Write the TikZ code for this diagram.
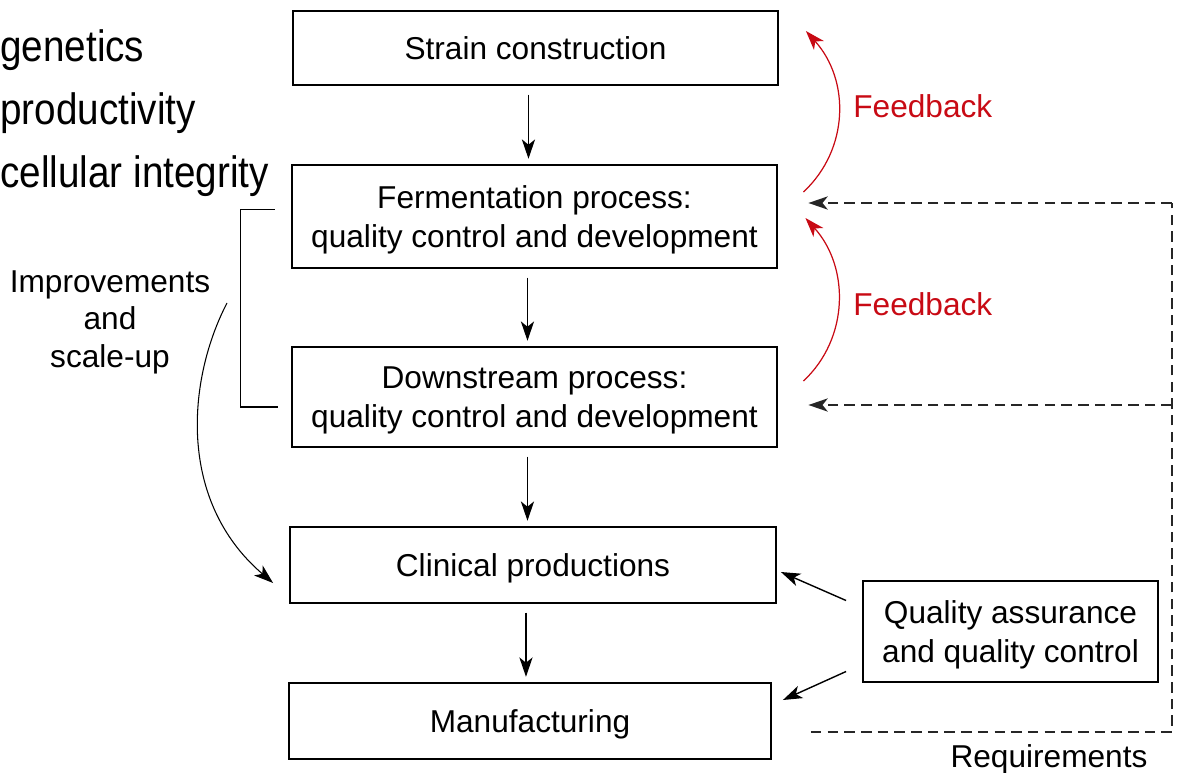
\documentclass[tikz,border=0pt]{standalone}
\usepackage{fontspec}
\setmainfont{Liberation Sans}
\newfontfamily\narrowfont[FakeStretch=0.88]{Liberation Sans}
\usepackage{xcolor}
\usetikzlibrary{arrows.meta,calc}
\definecolor{fbred}{RGB}{200,10,20}

\begin{document}
\begin{tikzpicture}[x=0.02cm,y=-0.02cm]
		
		\useasboundingbox (0,0) rectangle (1179,773);
		
		\tikzset{box/.style = {shape=rectangle,draw,line width=1.1pt,minimum width=9.72cm,align=center,text depth=0pt,font=\fontsize{18}{22.5}\selectfont}}
		\tikzset{edge/.style = {-{Stealth[length=11pt,width=7.5pt,inset=3pt]},line width=0.8pt}}
		\tikzset{fb/.style = {edge,draw=fbred,line width=0.7pt}}
		\tikzset{req/.style = {line width=1pt,dash pattern=on 6pt off 3.5pt,draw=black!85}}
		\tikzset{lbl/.style = {inner sep=0pt,font=\fontsize{18}{21.3}\selectfont}}
		\tikzset{big/.style = {inner sep=0pt,anchor=base west,font=\narrowfont\fontsize{25}{30}\selectfont}}
		
		
		\node[box] (S) at (535.5,48) [minimum width=9.7cm,minimum height=1.48cm] {Strain construction};
		\node[box] (F) at (534.5,216.5) [minimum height=2.06cm] {Fermentation process:\\quality control and development};
		\node[box] (D) at (534.5,397) [minimum height=2cm] {Downstream process:\\quality control and development};
		\node[box] (C) at (533,565) [minimum height=1.52cm] {Clinical productions};
		\node[box] (M) at (530,721) [minimum width=9.64cm,minimum height=1.52cm] {Manufacturing};
		\node[box] (QA) at (1010.5,631.5) [minimum width=5.9cm,minimum height=2.02cm] {Quality assurance\\and quality control};
		
		\node[big] (gen) at (0,62) {genetics};
		\node[big] (prod) at (0,125) {productivity};
		\node[big] (cell) at (0,188) {cellular integrity};
		
		\node[lbl,align=center] (imp) at (110,322) {Improvements\\and\\scale-up};
		\node[lbl,anchor=base west,text=fbred] (fb1) at (853,118) {Feedback};
		\node[lbl,anchor=base west,text=fbred] (fb2) at (853,316) {Feedback};
		\node[lbl,anchor=base] (req) at (1049,767) {Requirements};
		
		
		\draw[edge,shorten <=5pt,shorten >=3pt] ([xshift=-4pt]S.south) -- ([xshift=-4pt]S.south |- F.north);
		\draw[edge,shorten <=5pt,shorten >=3pt] ([xshift=-4pt]F.south) -- ([xshift=-4pt]F.south |- D.north);
		\draw[edge,shorten <=5pt,shorten >=3pt] ([xshift=-4pt]D.south) -- ([xshift=-4pt]D.south |- C.north);
		\draw[edge,shorten <=5pt,shorten >=3pt] ([xshift=-4pt]C.south) -- ([xshift=-4pt]C.south |- M.north);
		
		\draw[edge] ($(QA.west)+(-16,-31)$) -- ($(C.east)+(4,7)$);
		\draw[edge] ($(QA.west)+(-16,40)$) -- ($(M.east)+(11,-21)$);
		
		
		\draw[line width=0.8pt] ($(F.west)+(-16,-7)$) -| ($(D.west)+(-50,10)$) -- ($(D.west)+(-13,10)$);
		
		\coordinate (imp1) at (227,303);
		\draw[edge,line width=0.6pt] (imp1) .. controls (188,378) and (176,500) .. ($(C.west)+(-16,18)$);
		
		
		\draw[fb] ($(F.north east)+(25,28)$) .. controls +(46,-43) and +(44,49) .. ($(S.east)+(27,-17)$);
		\draw[fb] ($(D.north east)+(25,35)$) .. controls +(46,-43) and +(44,49) .. ($(F.east)+(27,1.5)$);
		
		
		\coordinate (r1) at (1172,203);
		\coordinate (r2) at (1172,405);
		\coordinate (r3) at (1172,732);
		\draw[req] ($(M.east)+(39,11)$) -- (r3) -- (r1);
		\draw[req,-{Stealth[length=11pt,width=7.5pt,inset=3pt]}] (r1) -- ($(F.east)+(30,-13.5)$);
		\draw[req,-{Stealth[length=11pt,width=7.5pt,inset=3pt]}] (r2) -- ($(D.east)+(30,8)$);
		
\end{tikzpicture}
\end{document}
